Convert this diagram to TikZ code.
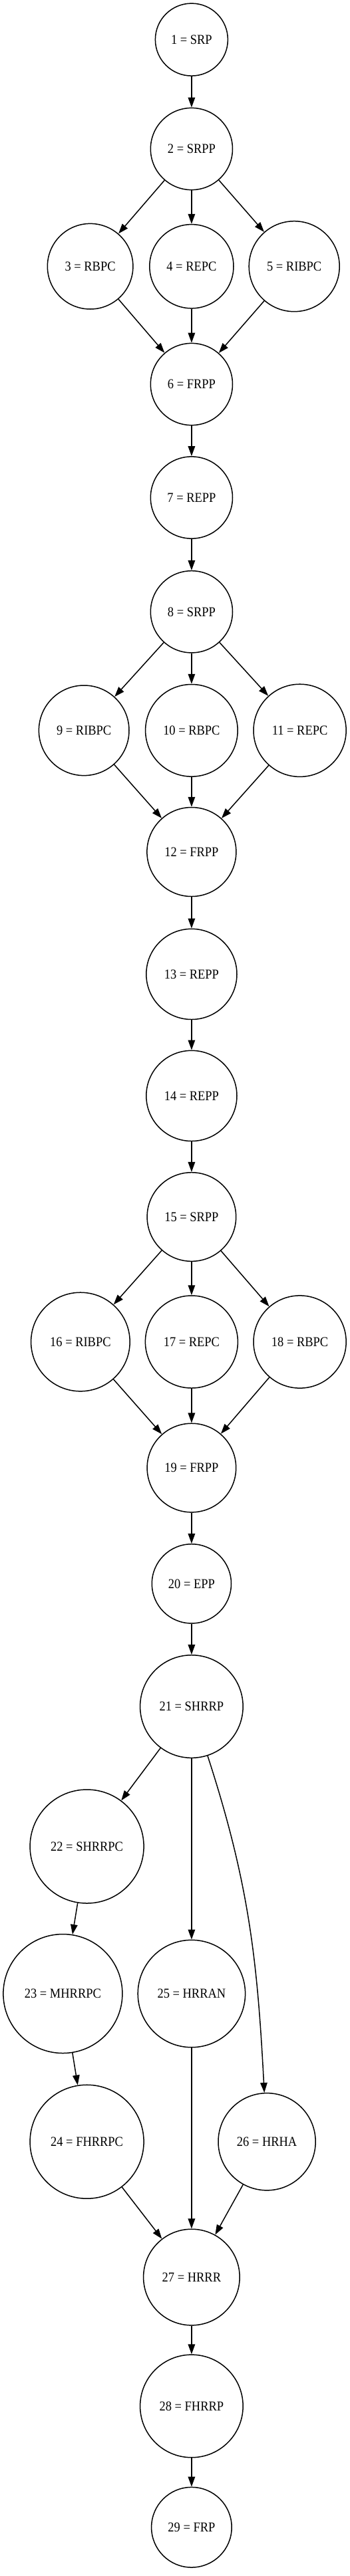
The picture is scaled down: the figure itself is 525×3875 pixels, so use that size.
\documentclass[tikz,border=0pt]{standalone}
\usepackage{fontspec}
\setmainfont{Liberation Serif}[FakeStretch=0.9]
\usetikzlibrary{arrows.meta}
\tikzset{
  st/.style={draw=black, line width=1.5pt, circle, inner sep=0pt, minimum size=#1,
    font=\fontsize{20.5pt}{24pt}\selectfont, text=black},
  edge/.style={draw=black, line width=1.5pt, -{Triangle[length=15pt,width=10.5pt]}}
}
\begin{document}
\begin{tikzpicture}[x=1pt,y=1pt]
\fill[white] (0,0) rectangle (525,-3875);
\useasboundingbox (0,0) rectangle (525,-3875);
\node[st=109pt] (n1) at (287.9,-59.6) {1 = SRP};
\node[st=123.2pt] (n2) at (287.9,-224) {2 = SRPP};
\node[st=128.6pt] (n3) at (135.6,-400.7) {3 = RBPC};
\node[st=126.2pt] (n4) at (287.9,-400.7) {4 = REPC};
\node[st=136pt] (n5) at (442.2,-400.7) {5 = RIBPC};
\node[st=123.2pt] (n6) at (287.9,-578) {6 = FRPP};
\node[st=123.2pt] (n7) at (287.9,-748.5) {7 = REPP};
\node[st=123.2pt] (n8) at (287.9,-920.3) {8 = SRPP};
\node[st=135.6pt] (n9) at (126.2,-1098.8) {9 = RIBPC};
\node[st=138.6pt] (n10) at (287.9,-1098.8) {10 = RBPC};
\node[st=139.2pt] (n11) at (450.6,-1098.8) {11 = REPC};
\node[st=134pt] (n12) at (287.9,-1281.5) {12 = FRPP};
\node[st=136.2pt] (n13) at (287.9,-1465.4) {13 = REPP};
\node[st=136.2pt] (n14) at (287.9,-1648.4) {14 = REPP};
\node[st=133.6pt] (n15) at (287.9,-1830.5) {15 = SRPP};
\node[st=148.6pt] (n16) at (120.9,-2018.5) {16 = RIBPC};
\node[st=139pt] (n17) at (287.9,-2018.5) {17 = REPC};
\node[st=139.2pt] (n18) at (450.6,-2018.5) {18 = RBPC};
\node[st=133.6pt] (n19) at (287.9,-2208) {19 = FRPP};
\node[st=119.2pt] (n20) at (287.9,-2382.3) {20 = EPP};
\node[st=154.6pt] (n21) at (287.9,-2567) {21 = SHRRP};
\node[st=171pt] (n22) at (130.6,-2777.5) {22 = SHRRPC};
\node[st=179pt] (n23) at (94.4,-2999) {23 = MHRRPC};
\node[st=161.4pt] (n25) at (287.9,-2999) {25 = HRRAN};
\node[st=171pt] (n24) at (130.6,-3221.7) {24 = FHRRPC};
\node[st=146.2pt] (n26) at (401.1,-3221.7) {26 = HRHA};
\node[st=144.6pt] (n27) at (287.9,-3425.5) {27 = HRRR};
\node[st=154.6pt] (n28) at (287.9,-3619.4) {28 = FHRRP};
\node[st=120.6pt] (n29) at (287.9,-3801.7) {29 = FRP};
\draw[edge] (n1) -- (n2);
\draw[edge] (n2) -- (n3);
\draw[edge] (n2) -- (n4);
\draw[edge] (n2) -- (n5);
\draw[edge] (n3) -- (n6);
\draw[edge] (n4) -- (n6);
\draw[edge] (n5) -- (n6);
\draw[edge] (n6) -- (n7);
\draw[edge] (n7) -- (n8);
\draw[edge] (n8) -- (n9);
\draw[edge] (n8) -- (n10);
\draw[edge] (n8) -- (n11);
\draw[edge] (n9) -- (n12);
\draw[edge] (n10) -- (n12);
\draw[edge] (n11) -- (n12);
\draw[edge] (n12) -- (n13);
\draw[edge] (n13) -- (n14);
\draw[edge] (n14) -- (n15);
\draw[edge] (n15) -- (n16);
\draw[edge] (n15) -- (n17);
\draw[edge] (n15) -- (n18);
\draw[edge] (n16) -- (n19);
\draw[edge] (n17) -- (n19);
\draw[edge] (n18) -- (n19);
\draw[edge] (n19) -- (n20);
\draw[edge] (n20) -- (n21);
\draw[edge] (n21) -- (n22);
\draw[edge] (n21) -- (n25);
\draw[edge] (n21) to[out=-72,in=93] (n26);
\draw[edge] (n22) -- (n23);
\draw[edge] (n23) -- (n24);
\draw[edge] (n24) -- (n27);
\draw[edge] (n25) -- (n27);
\draw[edge] (n26) -- (n27);
\draw[edge] (n27) -- (n28);
\draw[edge] (n28) -- (n29);
\end{tikzpicture}
\end{document}
